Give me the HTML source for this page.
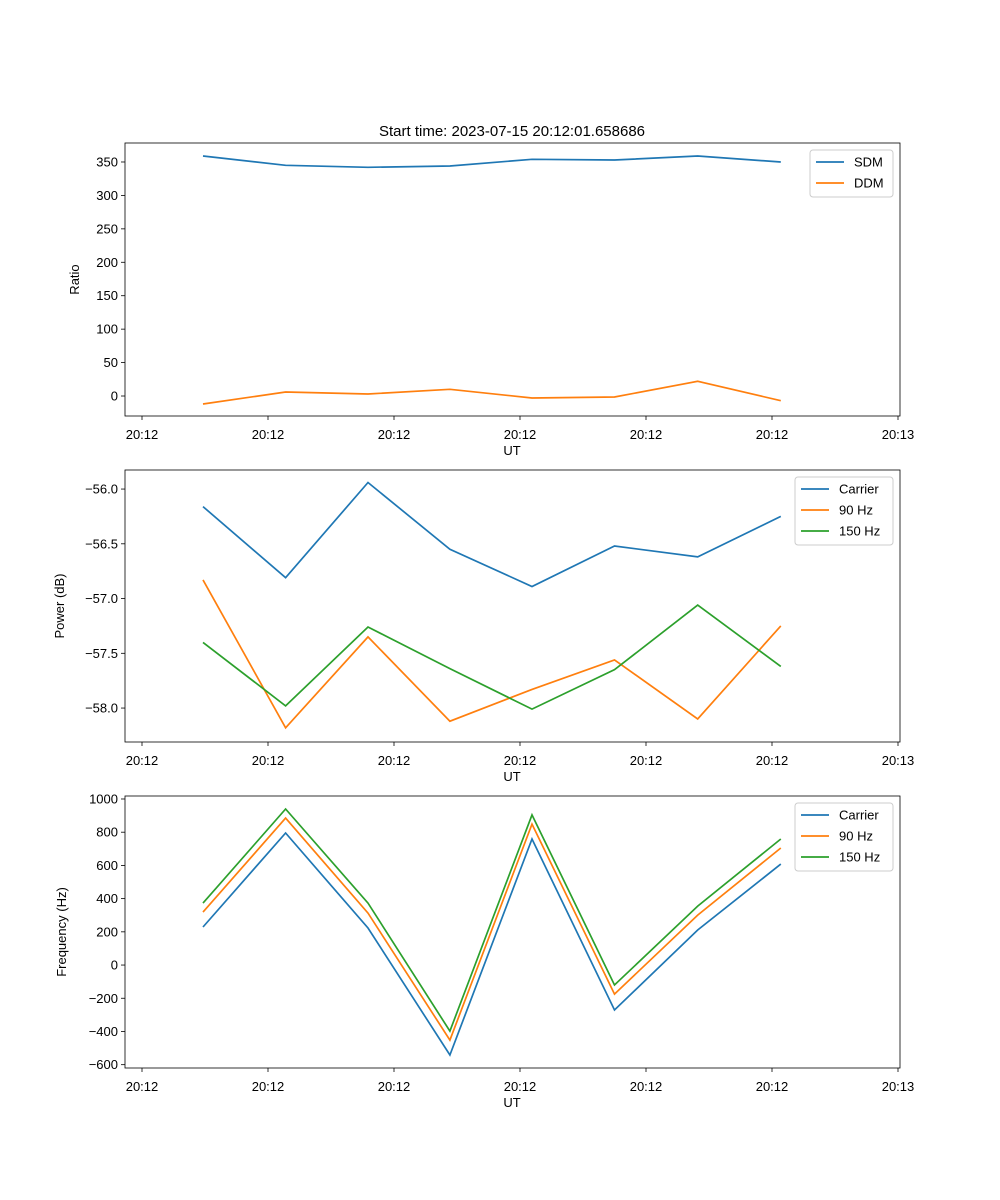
<!DOCTYPE html>
<html><head><meta charset="utf-8"><style>
body{margin:0;background:#fff}
svg{display:block;font-family:"Liberation Sans","DejaVu Sans",sans-serif}
</style></head><body>
<svg id="fig" width="1000" height="1200" xmlns="http://www.w3.org/2000/svg"></svg>
<script>
const times=[4.84,11.4,17.94,24.44,30.95,37.5,44.1,50.7];
const xTicks=[0,10,20,30,40,50,60];
const xTickLabels=["20:12","20:12","20:12","20:12","20:12","20:12","20:13"];
const sdm=[359,345,342,344,354,353,359,350];
const ddm=[-12,6,3,10,-3,-1.5,22,-7];
const pCarrier=[-56.16,-56.81,-55.94,-56.55,-56.89,-56.52,-56.62,-56.25];
const p90=[-56.83,-58.18,-57.35,-58.12,-57.83,-57.56,-58.10,-57.25];
const p150=[-57.40,-57.98,-57.26,-57.64,-58.01,-57.65,-57.06,-57.62];
const fCarrier=[229,795,223,-542,759,-271,211,608];
const f90=[319,885,313,-452,849,-175,301,705];
const f150=[373,940,373,-398,904,-120,355,759];
const ratioTicks=[0,50,100,150,200,250,300,350];
const powerTicks=[-58.0,-57.5,-57.0,-56.5,-56.0];
const freqTicks=[-600,-400,-200,0,200,400,600,800,1000];

const NS="http://www.w3.org/2000/svg";
const svg=document.getElementById('fig');
function el(t,a,p){const e=document.createElementNS(NS,t);for(const k in a)e.setAttribute(k,a[k]);(p||svg).appendChild(e);return e;}
const C=["#1f77b4","#ff7f0e","#2ca02c"];
const L=125,R=900;
const xs=t=>142+t*12.6;
function fmt(v,d){return (v<0?"\u2212":"")+Math.abs(v).toFixed(d);}

function panel(name,top,bot,ymin,ymax,ticks,dec,ylabel,ylx,series,labels,legW){
  const g=el('g',{});
  
  
  const ys=v=>bot-(v-ymin)/(ymax-ymin)*(bot-top);
  xTicks.forEach((t,i)=>{
    const x=xs(t);
    const tk=el('line',{x1:x,x2:x,y1:bot,y2:bot+4,stroke:'#000','stroke-width':0.8},g);
    
    
    const tx=el('text',{x:x,y:bot+23,'font-size':13,'text-anchor':'middle'},g);
    tx.textContent=xTickLabels[i];
    
    
  });
  ticks.forEach(v=>{
    const y=ys(v);
    const tk=el('line',{x1:L-4,x2:L,y1:y,y2:y,stroke:'#000','stroke-width':0.8},g);
    
    
    const tx=el('text',{x:L-7,y:y+4.5,'font-size':13,'text-anchor':'end'},g);
    tx.textContent=fmt(v,dec);
    
    
  });
  const xl=el('text',{x:512,y:bot+39,'font-size':13,'text-anchor':'middle'},g);
  xl.textContent='UT';
  
  
  const my=(top+bot)/2;
  const yl=el('text',{x:ylx,y:my,'font-size':13,'text-anchor':'middle',transform:`rotate(-90 ${ylx} ${my})`},g);
  yl.textContent=ylabel;
  
  
  series.forEach((s,i)=>{
    const pts=s.map((v,j)=>xs(times[j]).toFixed(1)+','+ys(v).toFixed(1)).join(' ');
    const pl=el('polyline',{points:pts,fill:'none',stroke:C[i],'stroke-width':1.7},g);
    
    
  });
  const fr=el('rect',{x:L,y:top,width:R-L,height:bot-top,fill:'none',stroke:'#000','stroke-width':0.8},g);
  
  
  const lx=R-7-legW, ly=top+7;
  const lg=el('g',{},g);
  
  
  el('rect',{x:lx,y:ly,width:legW,height:labels.length*21+5,rx:3,fill:'#fff',stroke:'#ccc','stroke-width':1},lg);
  labels.forEach((lab,i)=>{
    const y=ly+12+i*21;
    el('line',{x1:lx+6,x2:lx+34,y1:y,y2:y,stroke:C[i],'stroke-width':1.7},lg);
    const t=el('text',{x:lx+44,y:y+4.5,'font-size':13},lg);
    t.textContent=lab;
    
    
  });
}
const tt=el('text',{x:512,y:136,'font-size':15,'text-anchor':'middle'});
tt.textContent='Start time: 2023-07-15 20:12:01.658686';


panel('ratio-panel',143,416,-29.9,378.4,ratioTicks,0,'Ratio',79,[sdm,ddm],['SDM','DDM'],83);
panel('power-panel',470,742,-58.31,-55.826,powerTicks,1,'Power (dB)',64,[pCarrier,p90,p150],['Carrier','90 Hz','150 Hz'],98);
panel('frequency-panel',796,1068,-620,1018,freqTicks,0,'Frequency (Hz)',66,[fCarrier,f90,f150],['Carrier','90 Hz','150 Hz'],98);
</script>
</body></html>
